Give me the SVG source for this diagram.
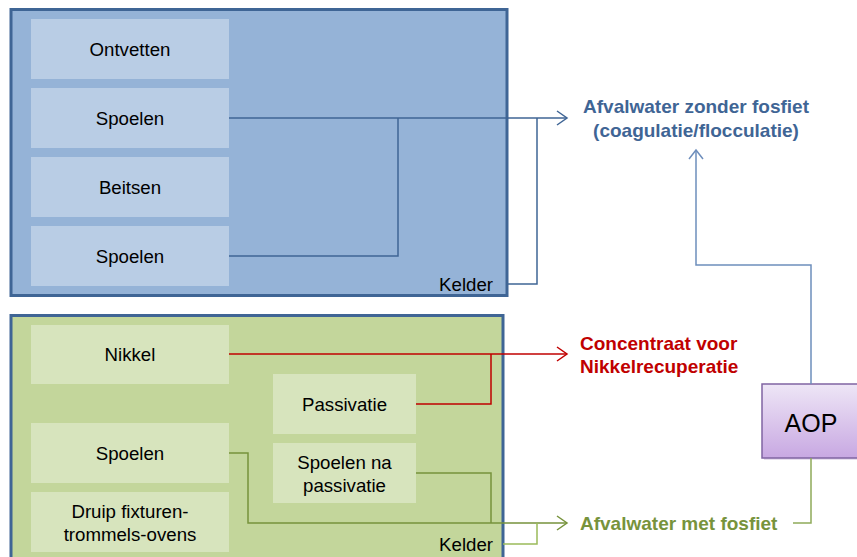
<svg xmlns="http://www.w3.org/2000/svg" width="857" height="557" viewBox="0 0 857 557">
<style>
text{font-family:"Liberation Sans",Arial,sans-serif;font-size:18.67px;fill:#000}
.c{text-anchor:middle}
.b{font-weight:bold;font-size:19px}
.bn{fill:#B9CDE5}
.gn{fill:#D7E4BD}
.ln{fill:none;stroke-width:1.5}
.blue{stroke:#3F6595}
.red{stroke:#C00000}
.grn{stroke:#77933C}
</style>
<defs>
<linearGradient id="aop" x1="0" y1="0" x2="0" y2="1">
<stop offset="0" stop-color="#EEE6F6"/>
<stop offset="1" stop-color="#C8A8E2"/>
</linearGradient>
</defs>
<g id="kelder-top">
<rect x="11" y="9.5" width="496" height="286" fill="#95B3D7" stroke="#3F6595" stroke-width="3"/>
<text x="493" y="291" text-anchor="end">Kelder</text>
</g>
<g id="kelder-bottom">
<rect x="11" y="315.5" width="492" height="260" fill="#C3D69B" stroke="#3F6595" stroke-width="3"/>
<text x="493" y="551" text-anchor="end">Kelder</text>
</g>
<g id="ontvetten"><rect class="bn" x="31" y="19" width="198" height="60"/><text class="c" x="130" y="55.7">Ontvetten</text></g>
<g id="spoelen1"><rect class="bn" x="31" y="88" width="198" height="60"/><text class="c" x="130" y="124.7">Spoelen</text></g>
<g id="beitsen"><rect class="bn" x="31" y="157" width="198" height="60"/><text class="c" x="130" y="193.7">Beitsen</text></g>
<g id="spoelen2"><rect class="bn" x="31" y="226" width="198" height="60"/><text class="c" x="130" y="262.7">Spoelen</text></g>
<g id="nikkel"><rect class="gn" x="31" y="325" width="198" height="59"/><text class="c" x="130" y="361">Nikkel</text></g>
<g id="passivatie"><rect class="gn" x="273" y="374" width="143" height="60"/><text class="c" x="344.5" y="410.7">Passivatie</text></g>
<g id="spoelen3"><rect class="gn" x="31" y="423" width="198" height="60"/><text class="c" x="130" y="459.7">Spoelen</text></g>
<g id="spoelen-na"><rect class="gn" x="273" y="443" width="143" height="60"/><text class="c" x="344.5" y="469">Spoelen na</text><text class="c" x="344.5" y="492">passivatie</text></g>
<g id="druip"><rect class="gn" x="31" y="492" width="198" height="60"/><text class="c" x="130" y="518">Druip fixturen-</text><text class="c" x="130" y="541">trommels-ovens</text></g>
<g id="aop-node">
<rect x="762" y="384" width="100" height="74" fill="#B9A0CF" opacity="0.35" transform="translate(2,2)"/>
<rect x="762" y="384" width="100" height="74" fill="url(#aop)" stroke="#8064A2" stroke-width="1.5"/>
<text class="c" x="811" y="432" style="font-size:25px">AOP</text>
</g>
<g id="label-zonder">
<text class="c b" x="696" y="112.7" style="fill:#3F6595">Afvalwater zonder fosfiet</text>
<text class="c b" x="696" y="136.7" style="fill:#3F6595">(coagulatie/flocculatie)</text>
</g>
<g id="label-concentraat">
<text class="b" x="580" y="350" style="fill:#C00000">Concentraat voor</text>
<text class="b" x="580" y="373" style="fill:#C00000">Nikkelrecuperatie</text>
</g>
<g id="label-met">
<text class="b" x="580" y="530" style="fill:#77933C">Afvalwater met fosfiet</text>
</g>
<g id="connectors">
<polyline class="ln blue" points="229,118 567,118"/>
<polyline class="ln blue" points="229,256 398,256 398,118"/>
<polyline class="ln blue" points="507,284 537,284 537,118"/>
<polyline class="ln blue" points="557,111 567,118 557,125"/>
<polyline class="ln" stroke="#6E8EBC" points="811,384 811,265 696,265 696,150"/>
<polyline class="ln" stroke="#6E8EBC" points="689,159 696,150 703,159"/>
<polyline class="ln red" points="229,354 567,354"/>
<polyline class="ln red" points="416,404 491,404 491,354"/>
<polyline class="ln red" points="557,347 567,354 557,361"/>
<polyline class="ln grn" points="229,453 248,453 248,523 567,523"/>
<polyline class="ln grn" points="416,473 491,473 491,523"/>
<polyline class="ln" stroke="#9BBB59" points="503,544 537,544 537,523"/>
<polyline class="ln grn" points="557,516 567,523 557,530"/>
<polyline class="ln" stroke="#8FAA5A" points="811,458 811,523 793,523"/>
</g>
</svg>
